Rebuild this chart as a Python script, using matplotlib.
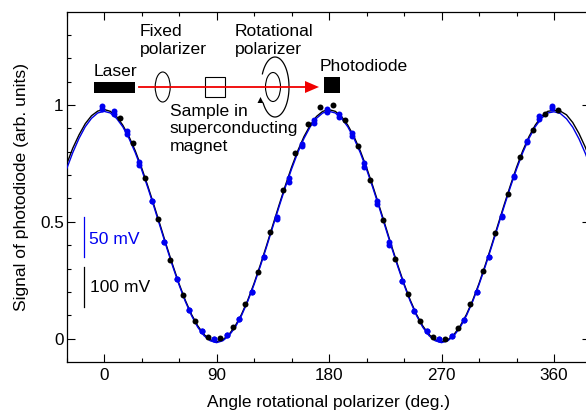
import numpy as np
import matplotlib
matplotlib.use("Agg")
import matplotlib.pyplot as plt
from matplotlib.patches import Ellipse, Polygon, Rectangle

plt.rcParams['font.family'] = ['Liberation Sans', 'DejaVu Sans']

# fitted curves, read every 5 deg from -30 to 390
curve_angle = list(range(-30, 395, 5))
curve_black = [0.745, 0.815, 0.872, 0.920, 0.954, 0.974,
               0.981, 0.973, 0.951, 0.914, 0.865, 0.804, 0.733, 0.654, 0.571, 0.485, 0.398, 0.315,
               0.236, 0.165, 0.104, 0.055, 0.018, -0.005, -0.013, -0.005, 0.018, 0.055, 0.104, 0.165,
               0.236, 0.315, 0.398, 0.485, 0.571, 0.654, 0.733, 0.804, 0.865, 0.914, 0.951, 0.973,
               0.980, 0.973, 0.951, 0.914, 0.865, 0.804, 0.733, 0.654, 0.571, 0.485, 0.398, 0.315,
               0.236, 0.165, 0.104, 0.055, 0.018, -0.005, -0.013, -0.005, 0.018, 0.055, 0.104, 0.165,
               0.236, 0.315, 0.398, 0.485, 0.571, 0.654, 0.733, 0.804, 0.865, 0.914, 0.951, 0.973,
               0.977, 0.974, 0.958, 0.925, 0.878, 0.820, 0.750]
curve_blue = [0.725, 0.796, 0.857, 0.907, 0.943, 0.966,
              0.973, 0.966, 0.943, 0.907, 0.857, 0.796, 0.725, 0.647, 0.564, 0.478, 0.392, 0.309,
              0.231, 0.160, 0.099, 0.049, 0.013, -0.009, -0.017, -0.009, 0.013, 0.049, 0.099, 0.160,
              0.231, 0.309, 0.392, 0.478, 0.564, 0.647, 0.725, 0.796, 0.857, 0.907, 0.943, 0.966,
              0.973, 0.966, 0.943, 0.907, 0.857, 0.796, 0.725, 0.647, 0.564, 0.478, 0.392, 0.309,
              0.231, 0.160, 0.099, 0.049, 0.013, -0.009, -0.017, -0.009, 0.013, 0.049, 0.099, 0.160,
              0.231, 0.309, 0.392, 0.478, 0.564, 0.647, 0.725, 0.796, 0.857, 0.907, 0.943, 0.966,
              0.971, 0.964, 0.941, 0.905, 0.855, 0.794, 0.723]

# measured points, black every 10 deg from 13
black_angle = list(range(13, 373, 10))
black_signal = [0.943, 0.839, 0.686, 0.511, 0.337, 0.187, 0.076, 0.009, 0.001, 0.049, 0.147, 0.287,
                0.458, 0.636, 0.796, 0.919, 0.991, 0.999, 0.937, 0.823, 0.678, 0.506, 0.340, 0.190,
                0.076, 0.007, 0.000, 0.047, 0.150, 0.290, 0.452, 0.621, 0.777, 0.892, 0.963, 0.977]

# blue points come in two close readings at each angle, every 10 deg from -2
blue_angle = list(range(-2, 368, 10))
blue_signal_a = [0.983, 0.961, 0.876, 0.745, 0.589, 0.412, 0.254, 0.121, 0.033, 0.000, 0.016, 0.083,
                 0.200, 0.348, 0.512, 0.672, 0.825, 0.923, 0.969, 0.949, 0.867, 0.735, 0.575, 0.403,
                 0.245, 0.118, 0.033, 0.000, 0.013, 0.081, 0.198, 0.349, 0.519, 0.692, 0.841, 0.940, 0.987]
blue_signal_b = [0.996, 0.974, 0.889, 0.755, 0.589, 0.412, 0.254, 0.121, 0.033, 0.000, 0.016, 0.083,
                 0.200, 0.348, 0.520, 0.686, 0.835, 0.936, 0.982, 0.962, 0.880, 0.750, 0.590, 0.413,
                 0.245, 0.118, 0.033, 0.000, 0.013, 0.081, 0.198, 0.349, 0.525, 0.698, 0.846, 0.953, 0.996]

x_major = [0, 90, 180, 270, 360]
x_minor = [-30, 30, 60, 120, 150, 210, 240, 300, 330]
y_major = [0, 0.5, 1]
y_labels = ['0', '0.5', '1']
y_minor = [0.1, 0.2, 0.3, 0.4, 0.6, 0.7, 0.8, 0.9, 1.1, 1.2, 1.3]

W, H = 586, 412
fig = plt.figure(figsize=(W / 100, H / 100), dpi=100)
ax = fig.add_axes([66.5 / W, 1 - 362 / H, (590 - 66.5) / W, (362 - 12) / H])

ax.plot(curve_angle, curve_black, color='black', lw=1.0, zorder=2)
ax.plot(curve_angle, curve_blue, color='#0000e6', lw=1.0, zorder=3)
ax.plot(black_angle, black_signal, 'o', color='black', ms=4.3, mew=0, zorder=4)
ax.plot(blue_angle, blue_signal_a, 'o', color='#0000f0', ms=4.3, mew=0, zorder=5)
ax.plot(blue_angle, blue_signal_b, 'o', color='#0000f0', ms=4.3, mew=0, zorder=5)

ax.set_xlim(-30, 388.8)
ax.set_ylim(-0.0997, 1.398)
ax.set_xticks(x_major)
ax.set_xticks(x_minor, minor=True)
ax.set_yticks(y_major)
ax.set_yticklabels(y_labels)
ax.set_yticks(y_minor, minor=True)
ax.tick_params(axis='both', which='major', direction='in', length=5.5, width=0.8,
               top=True, right=True, labelsize=12.3)
ax.tick_params(axis='both', which='minor', direction='in', length=3, width=0.8,
               top=True, right=True)
ax.tick_params(axis='x', which='major', pad=4)
ax.tick_params(axis='y', which='major', pad=2)
for s in ax.spines.values():
    s.set_linewidth(0.9)

ax.set_xlabel('Angle rotational polarizer (deg.)', fontsize=12.5, labelpad=9)
ax.set_ylabel('Signal of photodiode (arb. units)', fontsize=12.6, labelpad=8)

# overlay in pixel coordinates for the setup sketch and the scale bars
ov = fig.add_axes([0, 0, 1, 1])
ov.set_xlim(0, W)
ov.set_ylim(H, 0)
ov.axis('off')
ov.patch.set_alpha(0)

ov.add_patch(Rectangle((94, 82), 41, 11, color='black', lw=0))
ov.add_patch(Rectangle((324, 77), 16, 16, color='black', lw=0))
ov.add_patch(Ellipse((162.7, 87), 15, 30, fill=False, ec='black', lw=0.8))
ov.add_patch(Rectangle((204.5, 77), 20.5, 20, fill=False, ec='black', lw=0.8))
ov.add_patch(Ellipse((273, 87), 15, 29, fill=False, ec='black', lw=0.8))

t = np.radians(np.linspace(206, 507, 120))
ov.plot(275 + 14 * np.cos(t), 87 + 30 * np.sin(t), color='black', lw=0.9)
ov.add_patch(Polygon([[260.5, 97], [257.5, 103], [263.5, 103]], color='black', lw=0))

ov.plot([139, 306], [87, 87], color='#f00000', lw=1.3)
ov.add_patch(Polygon([[305, 81], [319, 87], [305, 93]], color='#f00000', lw=0))

ov.plot([84.3, 84.3], [217, 257], color='#0000f0', lw=0.9)
ov.plot([84.3, 84.3], [267, 307], color='black', lw=0.9)

txt = dict(fontsize=12.6, va='center', ha='left')
ov.text(94, 71, 'Laser', **txt)
ov.text(140, 31, 'Fixed', **txt)
ov.text(140, 49, 'polarizer', **txt)
ov.text(235, 31, 'Rotational', **txt)
ov.text(235, 49, 'polarizer', **txt)
ov.text(320, 66, 'Photodiode', **txt)
ov.text(170, 111, 'Sample in', **txt)
ov.text(170, 129, 'superconducting', **txt)
ov.text(170, 146, 'magnet', **txt)
ov.text(89, 239, '50 mV', color='#0000f0', **txt)
ov.text(90, 288, '100 mV', **txt)

plt.savefig('out.png', dpi=100)
